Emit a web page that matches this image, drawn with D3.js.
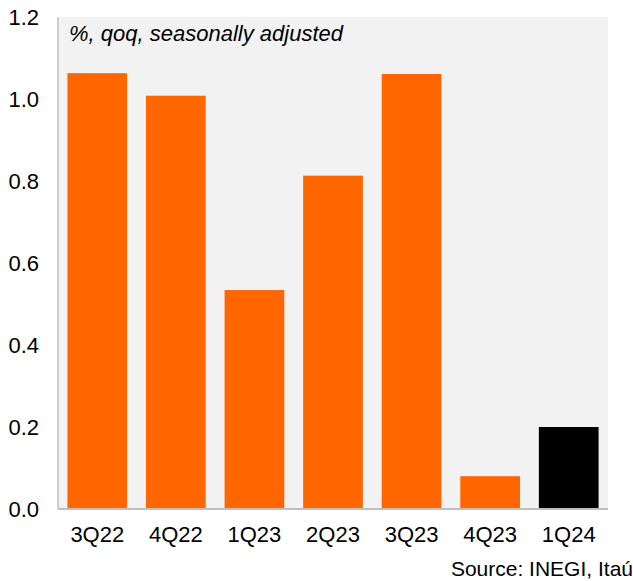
<!DOCTYPE html>
<html><head><meta charset="utf-8">
<script src="https://cdn.jsdelivr.net/npm/d3@7"></script>
<style>body{margin:0;background:#fff}svg{display:block}text{font-family:"Liberation Sans",Arial,sans-serif}</style>
</head><body><svg id="c" width="633" height="581"></svg>
<script>
const categories = ["3Q22","4Q22","1Q23","2Q23","3Q23","4Q23","1Q24"];
const values = [1.063, 1.008, 0.534, 0.813, 1.061, 0.080, 0.200];
const barColors = ["#FF6600","#FF6600","#FF6600","#FF6600","#FF6600","#FF6600","#000000"];
const yTicks = [0, 0.2, 0.4, 0.6, 0.8, 1.0, 1.2];
const subtitle = "%, qoq, seasonally adjusted";
const source = "Source: INEGI, Itaú";

const svg = d3.select("#c");
const L = 58, R = 608, T = 17, B = 509;
const x = d3.scaleBand().domain(categories).range([L, R]).paddingInner(0.24).paddingOuter(0.12);
const y = d3.scaleLinear().domain([0, 1.2]).range([B, T]);

svg.append("rect").attr("x", L).attr("y", T).attr("width", R - L).attr("height", B - T).attr("fill", "#F2F2F2");

svg.selectAll("rect.bar").data(values).join("rect").attr("class","bar")
  .attr("x", (d,i) => x(categories[i])).attr("width", x.bandwidth())
  .attr("y", d => y(d)).attr("height", d => B - y(d))
  .attr("fill", (d,i) => barColors[i]);

svg.append("line").attr("x1", L).attr("x2", L).attr("y1", T).attr("y2", B).attr("stroke", "#BFBFBF").attr("stroke-width", 1.5);
svg.append("line").attr("x1", L).attr("x2", R).attr("y1", B).attr("y2", B).attr("stroke", "#BFBFBF").attr("stroke-width", 2);

const yAxis = svg.append("g").attr("transform", `translate(${L},0)`)
  .call(d3.axisLeft(y).tickValues(yTicks).tickFormat(d3.format(".1f")).tickSize(0).tickPadding(19));
yAxis.select(".domain").remove();
yAxis.selectAll("text").attr("font-size", 22).attr("fill", "#000").attr("font-family", "Liberation Sans, Arial, sans-serif");

const xAxis = svg.append("g").attr("transform", `translate(0,${B})`)
  .call(d3.axisBottom(x).tickSize(0).tickPadding(17));
xAxis.select(".domain").remove();
xAxis.selectAll("text").attr("font-size", 22).attr("fill", "#000").attr("font-family", "Liberation Sans, Arial, sans-serif");

svg.append("text").attr("x", 69).attr("y", 41).attr("font-size", 22).attr("font-style", "italic").attr("fill", "#000").text(subtitle);
svg.append("text").attr("x", 633).attr("y", 576).attr("text-anchor", "end").attr("font-size", 21).attr("fill", "#000").text(source);
</script></body></html>
